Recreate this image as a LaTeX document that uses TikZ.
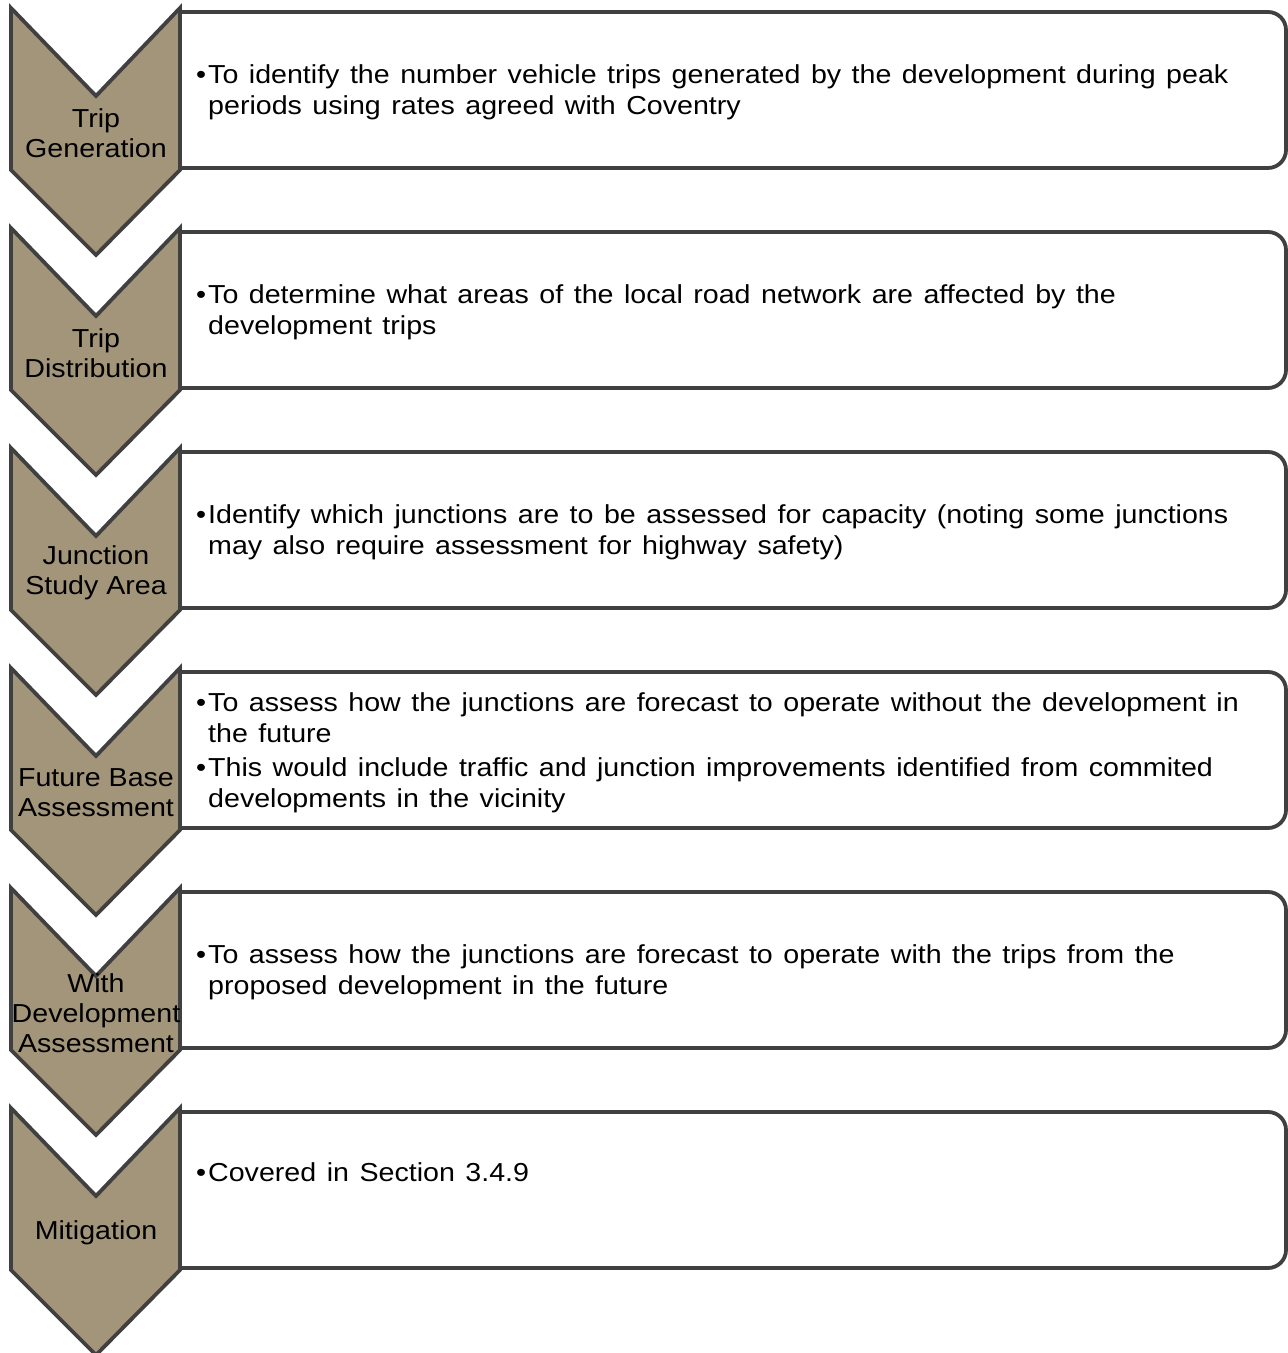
\documentclass[tikz,border=0pt]{standalone}
\usepackage{fontspec}
\setmainfont{Liberation Sans}[FakeStretch=1.1]
\definecolor{chevfill}{HTML}{A29579}
\definecolor{edge}{HTML}{404040}
\newcommand{\bodyfnt}{\fontsize{26}{31}\selectfont\spaceskip=10.5pt\relax}
\begin{document}
\begin{tikzpicture}[x=1pt,y=1pt,
  chev/.style={fill=chevfill,draw=edge,line width=3.8pt,line join=miter},
  infobox/.style={fill=white,draw=edge,line width=3.8pt},
  lbl/.style={align=center,inner sep=0pt,font=\fontsize{26}{30}\selectfont},
  body/.style={anchor=west,inner sep=0pt,font=\bodyfnt}]
\useasboundingbox (0,0) rectangle (1288,1353);
\foreach \k/\lab in {0/{Trip\\Generation},1/{Trip\\Distribution},2/{Junction\\Study Area},3/{Future Base\\Assessment},4/{With\\Development\\Assessment},5/{Mitigation}}{
  \pgfmathsetmacro{\T}{1341-220*\k}
  \pgfmathsetmacro{\B}{1185-220*\k}
  \pgfmathsetmacro{\Yo}{1345-220*\k}
  \draw[infobox] (180,\T) -- (1268,\T) arc[start angle=90,end angle=0,radius=18pt]
     -- (1286,\B+18) arc[start angle=0,end angle=-90,radius=18pt] -- (180,\B) -- cycle;
  \draw[chev] (11,\Yo) -- (96,\Yo-88) -- (180,\Yo) -- (180,\Yo-162) -- (96,\Yo-247) -- (11,\Yo-162) -- cycle;
  \node[lbl] (lab\k) at (96,\Yo-125) {\lab};
}
\node[body] (t0) at (196,1260) {\begin{tabular}{@{}l@{\hspace{2pt}}l@{}}•&To identify the number vehicle trips generated by the development during peak\\ &periods using rates agreed with Coventry\end{tabular}};
\node[body] (t1) at (196,1040) {\begin{tabular}{@{}l@{\hspace{2pt}}l@{}}•&To determine what areas of the local road network are affected by the\\ &development trips\end{tabular}};
\node[body] (t2) at (196,820) {\begin{tabular}{@{}l@{\hspace{2pt}}l@{}}•&Identify which junctions are to be assessed for capacity (noting some junctions\\ &may also require assessment for highway safety)\end{tabular}};
\node[body] (t3) at (196,600) {\begin{tabular}{@{}l@{\hspace{2pt}}l@{}}•&To assess how the junctions are forecast to operate without the development in\\ &the future\\[3pt] •&This would include traffic and junction improvements identified from commited\\ &developments in the vicinity\end{tabular}};
\node[body] (t4) at (196,380) {\begin{tabular}{@{}l@{\hspace{2pt}}l@{}}•&To assess how the junctions are forecast to operate with the trips from the\\ &proposed development in the future\end{tabular}};
\node[body] (t5) at (196,178) {\begin{tabular}{@{}l@{\hspace{2pt}}l@{}}•&Covered in Section 3.4.9\end{tabular}};
\end{tikzpicture}
\end{document}
